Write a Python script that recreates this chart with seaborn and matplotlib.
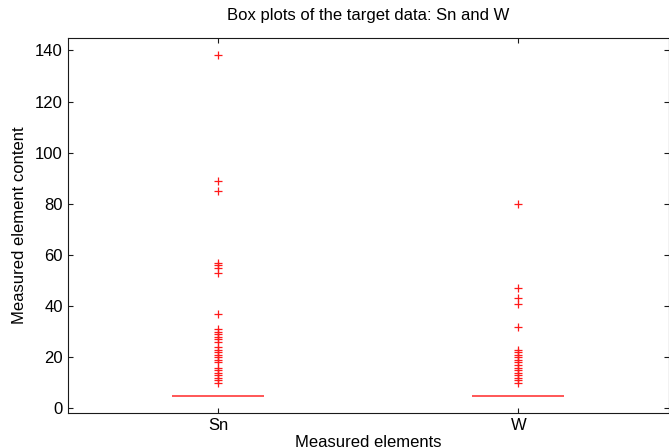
import numpy as np
import pandas as pd
import matplotlib
matplotlib.use("Agg")
import matplotlib.pyplot as plt
import seaborn as sns

# Measured contents: most samples sit at the reporting level, the rest are listed individually
categories = ["Sn", "W"]
base_value = 5
sn_base_count = 150
w_base_count = 150
sn_other = [10, 11, 12, 13, 14, 15, 16, 18, 19, 20, 21, 22, 23, 24, 26, 27,
            28, 29, 30, 31, 37, 53, 55, 56, 57, 85, 89, 138]
w_other = [10, 11, 12, 13, 14, 15, 16, 17, 18, 19, 20, 21, 22, 23,
           32, 41, 43, 47, 80]
y_ticks = [0, 20, 40, 60, 80, 100, 120, 140]

sn_values = [base_value] * sn_base_count + sn_other
w_values = [base_value] * w_base_count + w_other
df = pd.DataFrame({
    "element": ["Sn"] * len(sn_values) + ["W"] * len(w_values),
    "value": sn_values + w_values,
})

sns.set_style("white")
plt.rcParams["font.family"] = ["Liberation Sans", "DejaVu Sans"]
plt.rcParams["font.size"] = 12
plt.rcParams["text.color"] = "black"
plt.rcParams["axes.labelcolor"] = "black"
plt.rcParams["xtick.color"] = "black"
plt.rcParams["ytick.color"] = "black"

fig = plt.figure(figsize=(6.69, 4.48), dpi=100)
ax = fig.add_axes([0.1021, 0.0788, 0.8972, 0.8353])

red = "#ff1a1a"
soft_red = "#ff5a5a"
sns.boxplot(
    data=df, x="element", y="value", order=categories, ax=ax,
    width=0.3, whis=1.5, fill=False, color=soft_red, linewidth=1.3,
    fliersize=6,
    flierprops=dict(marker="+", markeredgecolor=red, markeredgewidth=0.9),
    medianprops=dict(color=soft_red, linewidth=1.4),
    boxprops=dict(color=soft_red),
    whiskerprops=dict(color=soft_red),
    capprops=dict(color=soft_red),
)

ax.set_xlim(-0.5, 1.5)
ax.set_ylim(-1.65, 144.65)
ax.set_yticks(y_ticks)
ax.set_xticks([0, 1])
ax.set_xticklabels(categories)

for s in ax.spines.values():
    s.set_visible(True)
    s.set_color("#1a1a1a")
    s.set_linewidth(0.8)

ax.tick_params(direction="in", length=3.5, width=0.8, color="#1a1a1a",
               labelcolor="black", top=True, right=True, bottom=True,
               left=True, labelsize=12, pad=4)

ax.set_title("Box plots of the target data: Sn and W", fontsize=12, pad=13,
             color="black")
ax.set_xlabel("Measured elements", fontsize=12, labelpad=1, color="black")
ax.set_ylabel("Measured element content", fontsize=12, labelpad=6,
              color="black")

fig.savefig("out.png", dpi=100)
